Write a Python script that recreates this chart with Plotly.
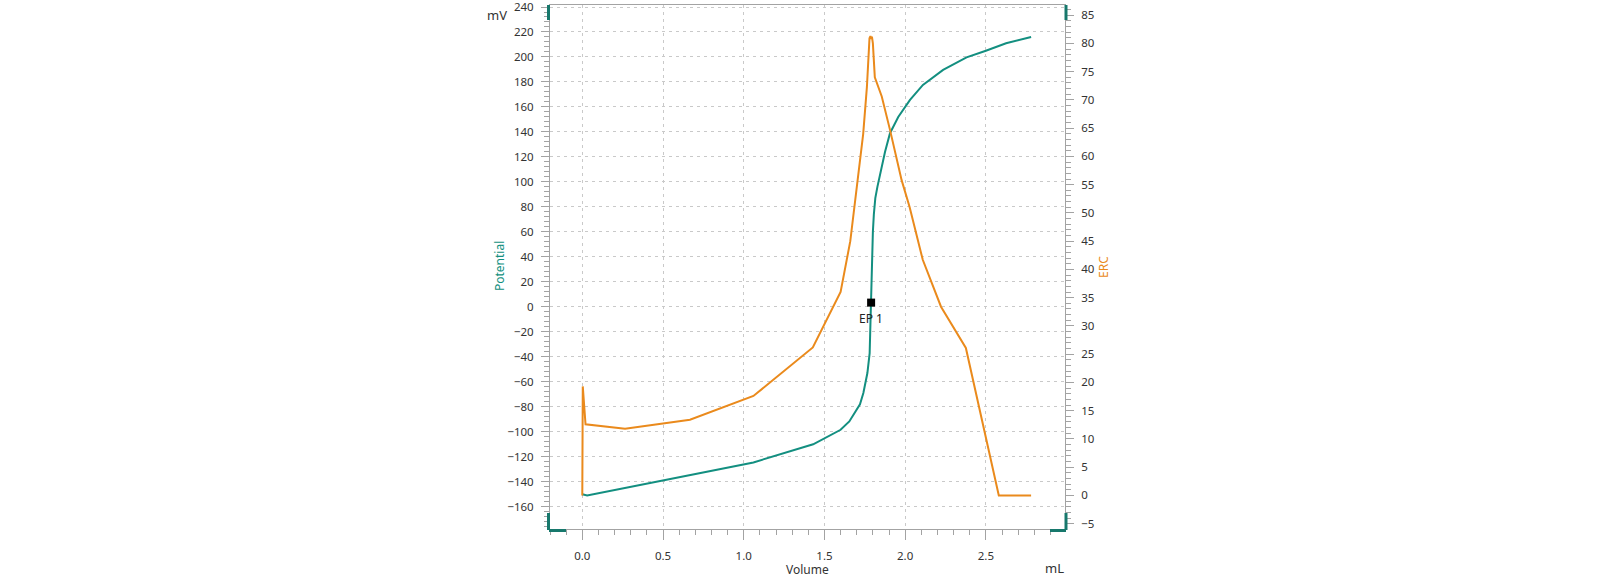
import plotly.graph_objects as go

# ---- data ----
pot_vol = [0.0, 0.03, 0.67, 1.06, 1.43, 1.60, 1.654, 1.72, 1.741, 1.766, 1.78, 1.787,
           1.795, 1.80, 1.806, 1.815, 1.828, 1.84, 1.862, 1.875, 1.906, 1.957, 2.03,
           2.11, 2.235, 2.38, 2.50, 2.625, 2.78]
pot_mv = [-150, -151, -134.5, -124.5, -110, -98.4, -91.7, -78, -69, -53, -37, 3,
          37.6, 60, 74, 87, 96, 103, 117.6, 124, 139, 152, 165.6,
          177.6, 189.6, 199.7, 205, 211, 216]

erc_vol = [0.0, 0.003, 0.02, 0.265, 0.667, 1.06, 1.428, 1.60, 1.66, 1.71, 1.74, 1.763,
           1.779, 1.785, 1.79, 1.794, 1.80, 1.812, 1.855, 1.906, 1.978, 2.027, 2.109,
           2.222, 2.376, 2.58, 2.78]
erc_val = [0, 19.3, 12.6, 11.8, 13.4, 17.6, 26.2, 36, 45, 57, 64, 72.3,
           80.9, 81.3, 80.8, 81.2, 80, 74, 70.6, 64.7, 55.8, 51.1, 41.7,
           33.4, 26.1, 0, 0]

ep_vol = [1.789]
ep_mv = [3.4]
ep_label = ["EP 1"]

TEAL = "#138f80"
TEAL_DARK = "#17786c"
ORANGE = "#ea8a1c"
GRID = "#c9c9c9"
AXIS = "#a3a3a3"
TXT = "#333333"
FONT = "Noto Sans"

W, H = 1600, 580
ML, MR, MT, MB = 550, 535, 5, 51
PW = W - ML - MR
PH = H - MT - MB

fig = go.Figure()
fig.add_trace(go.Scatter(x=pot_vol, y=pot_mv, mode="lines", name="Potential",
                         line=dict(color=TEAL, width=2), yaxis="y"))
fig.add_trace(go.Scatter(x=erc_vol, y=erc_val, mode="lines", name="ERC",
                         line=dict(color=ORANGE, width=2), yaxis="y2"))
fig.add_trace(go.Scatter(x=ep_vol, y=ep_mv, mode="markers",
                         marker=dict(symbol="square", size=8, color="black"),
                         yaxis="y"))
fig.add_annotation(x=ep_vol[0], y=ep_mv[0], xref="x", yref="y", text=ep_label[0],
                   showarrow=False, yshift=-16, xanchor="center", yanchor="middle",
                   font=dict(family=FONT, size=12, color="#222"))

tickfont = dict(family=FONT, size=11.5, color=TXT)

fig.update_layout(
    width=W, height=H, autosize=False,
    margin=dict(l=ML, r=MR, t=MT, b=MB, autoexpand=False),
    paper_bgcolor="white", plot_bgcolor="white",
    showlegend=False,
    font=dict(family=FONT, size=12, color=TXT),
    xaxis=dict(range=[-0.2, 2.99], dtick=0.5, tick0=0, tickformat=".1f",
               showgrid=True, gridcolor=GRID, griddash="3px,4px", gridwidth=1,
               zeroline=False, showline=True, linecolor=AXIS, linewidth=1,
               mirror=True, ticklabelstandoff=6, ticklabeloverflow="allow",
               automargin=False,
               ticks="outside", ticklen=10, tickcolor=AXIS, tickfont=tickfont,
               minor=dict(dtick=0.1, tick0=0, ticks="outside", ticklen=5,
                          tickcolor=AXIS, showgrid=False)),
    yaxis=dict(range=[-177.8, 241.6], dtick=20, tick0=0,
               showgrid=True, gridcolor=GRID, griddash="3px,4px", gridwidth=1,
               zeroline=False, showline=True, linecolor=AXIS, linewidth=1,
               ticks="outside", ticklen=8, tickcolor=AXIS, tickfont=tickfont,
               ticklabelstandoff=5, ticklabeloverflow="allow", automargin=False,
               minor=dict(dtick=4, tick0=0, ticks="outside", ticklen=5,
                          tickcolor=AXIS, showgrid=False)),
    yaxis2=dict(range=[-5.94, 86.8], dtick=5, tick0=0, overlaying="y", side="right",
                showgrid=False, zeroline=False, showline=True, linecolor=AXIS,
                linewidth=1, ticks="outside", ticklen=8, tickcolor=AXIS,
                tickfont=tickfont, ticklabelstandoff=5, ticklabeloverflow="allow",
                automargin=False,
                minor=dict(dtick=1, tick0=0, ticks="outside", ticklen=5,
                           tickcolor=AXIS, showgrid=False)),
)


def px_x(p):
    return (p - ML) / PW


def px_y(p):
    return (H - MB - p) / PH


annos = [
    dict(text="mV", x=px_x(497), y=px_y(15), font=dict(size=13, color=TXT)),
    dict(text="Potential", x=px_x(499), y=px_y(266), textangle=-90,
         font=dict(size=12, color=TEAL)),
    dict(text="ERC", x=px_x(1103), y=px_y(267), textangle=-90,
         font=dict(size=12, color=ORANGE)),
    dict(text="Volume", x=px_x(807), y=px_y(569), font=dict(size=12, color=TXT)),
    dict(text="mL", x=px_x(1054), y=px_y(568), font=dict(size=13, color=TXT)),
]
for a in annos:
    fig.add_annotation(xref="paper", yref="paper", showarrow=False,
                       xanchor="center", yanchor="middle", font_family=FONT, **a)

# teal corner handles
handles = [
    (548.5, 5, 548.5, 20, 3),
    (548.5, 513, 548.5, 530, 3),
    (549, 530.5, 566, 530.5, 3),
    (1050, 530.5, 1066, 530.5, 3),
    (1066, 513, 1066, 530, 3),
    (1066, 5, 1066, 20, 3),
]
for x0, y0, x1, y1, w in handles:
    fig.add_shape(type="line", xref="paper", yref="paper",
                  x0=px_x(x0), y0=px_y(y0), x1=px_x(x1), y1=px_y(y1),
                  line=dict(color=TEAL_DARK, width=w))

fig.write_html("out.html",
               config={"displayModeBar": False},
               post_script="document.body.style.margin='0px';"
                           "document.body.style.overflow='hidden';")
